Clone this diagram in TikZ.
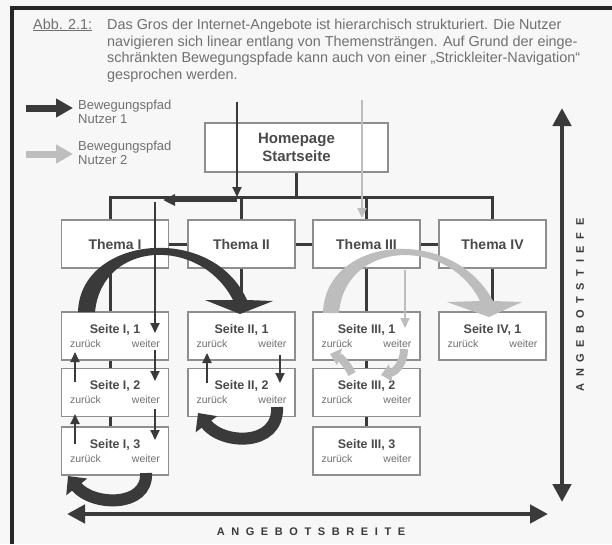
\documentclass[tikz,border=0pt]{standalone}
\usepackage{fontspec}
\setmainfont{Liberation Sans}
\newfontfamily\spacedfont[LetterSpace=60]{Liberation Sans}
\usetikzlibrary{arrows.meta}
\definecolor{darkc}{HTML}{3A3A3A}
\definecolor{lightc}{HTML}{BDBDBD}
\definecolor{boxc}{HTML}{8E8E8E}
\definecolor{txtc}{HTML}{4A4A4A}
\definecolor{captc}{HTML}{707070}
\definecolor{bgc}{HTML}{F7F7F7}
\newcommand\seitelabel[1]{{\fontsize{12.5}{14}\selectfont\bfseries Seite #1}\\[2pt]{\fontsize{10.5}{12}\selectfont\color{captc}zurück\hfill weiter}}
\begin{document}
\begin{tikzpicture}[x=1pt,y=-1pt,
  box/.style={draw=boxc, line width=1.6pt, fill=white, inner sep=0pt, text=txtc},
  themebox/.style={box, minimum width=107pt, minimum height=48pt, font=\fontsize{14}{16}\selectfont\bfseries},
  pagebox/.style={box, minimum width=107pt, minimum height=48pt, text width=90pt, align=center},
  conn/.style={draw=darkc, line width=3pt},
  thinD/.style={draw=darkc, line width=2pt, -{Triangle[width=9pt,length=10pt]}},
  thinL/.style={draw=lightc, line width=2pt, -{Triangle[width=9pt,length=10pt]}},
  uturn/.style={draw=darkc, line width=12pt, -{Triangle[width=26pt,length=14pt]}},
  swoosh/.style={draw=lightc, line width=8pt, -{Triangle[width=17pt,length=10pt]}},
  axis/.style={draw=darkc, line width=4.5pt, {Triangle[width=18pt,length=18pt]}-{Triangle[width=18pt,length=18pt]}},
  capt/.style={anchor=base west, font=\fontsize{14.4}{16}\selectfont, text=captc, inner sep=0pt},
  legtext/.style={anchor=west, align=left, font=\fontsize{13}{14}\selectfont, text=captc, inner sep=0pt},
  axlabel/.style={font=\spacedfont\bfseries\fontsize{11}{13}\selectfont, text=darkc, inner sep=0pt}
]
\useasboundingbox (0,0) rectangle (612,544);
\fill[bgc] (0,0) rectangle (612,544);
\draw[line width=3.5pt, draw=black!85] (12,544) -- (12,8) -- (612,8);

% caption
\node[capt] (abb) at (33,29) {\underline{Abb. 2.1:}};
\node[capt] (c1) at (107,29) {Das Gros der Internet-Angebote ist hierarchisch strukturiert. Die Nutzer};
\node[capt] (c2) at (107,46) {navigieren sich linear entlang von Themensträngen. Auf Grund der einge-};
\node[capt] (c3) at (107,62) {schränkten Bewegungspfade kann auch von einer „Strickleiter-Navigation“};
\node[capt] (c4) at (107,79) {gesprochen werden.};

% legend
\coordinate (l1a) at (26,108); \coordinate (l1b) at (73,108);
\coordinate (l2a) at (26,154); \coordinate (l2b) at (73,154);
\draw[draw=darkc, line width=7pt, -{Triangle[width=18pt,length=17pt]}] (l1a) -- (l1b);
\draw[draw=lightc, line width=7pt, -{Triangle[width=18pt,length=17pt]}] (l2a) -- (l2b);
\node[legtext] (lt1) at (78,112) {Bewegungspfad\\Nutzer 1};
\node[legtext] (lt2) at (78,152.5) {Bewegungspfad\\Nutzer 2};

% boxes
\node[box, minimum width=183pt, minimum height=49pt, align=center, font=\fontsize{15}{18}\selectfont\bfseries] (home) at (296.5,147.5) {Homepage\\Startseite};
\node[themebox] (t1) at (115,244) {Thema I};
\node[themebox] (t2) at (241.5,244) {Thema II};
\node[themebox] (t3) at (366.5,244) {Thema III};
\node[themebox] (t4) at (492.5,244) {Thema IV};
\node[pagebox] (s11) at (115,336) {\seitelabel{I, 1}};
\node[pagebox] (s12) at (115,392.5) {\seitelabel{I, 2}};
\node[pagebox] (s13) at (115,451) {\seitelabel{I, 3}};
\node[pagebox] (s21) at (241.5,336) {\seitelabel{II, 1}};
\node[pagebox] (s22) at (241.5,392.5) {\seitelabel{II, 2}};
\node[pagebox] (s31) at (366.5,336) {\seitelabel{III, 1}};
\node[pagebox] (s32) at (366.5,392.5) {\seitelabel{III, 2}};
\node[pagebox] (s33) at (366.5,451) {\seitelabel{III, 3}};
\node[pagebox] (s41) at (492.5,336) {\seitelabel{IV, 1}};

% tree connectors
\coordinate (bus) at (0,197);
\draw[conn] (home.south) -- (home.south |- bus);
\draw[conn] ([xshift=-5pt]t1.north) |- (bus -| t4.north) -- (t4.north);
\draw[conn] (t2.north) -- (t2.north |- bus);
\draw[conn] (t3.north) -- (t3.north |- bus);
\draw[conn] (t1.east) -- (t2.west);
\draw[conn] (t2.east) -- (t3.west);
\draw[conn] (t3.east) -- (t4.west);
\draw[conn] ([xshift=-5pt]t1.south) -- ([xshift=-5pt]s11.north);
\draw[conn] (t2.south) -- (s21.north);
\draw[conn] (t3.south) -- (s31.north);
\draw[conn] (t4.south) -- (s41.north);
\draw[conn] ([xshift=-5pt]s11.south) -- ([xshift=-5pt]s12.north);
\draw[conn] ([xshift=-5pt]s12.south) -- ([xshift=-5pt]s13.north);
\draw[conn] (s31.south) -- (s32.north);
\draw[conn] (s32.south) -- (s33.north);

% user 2 (light)
\coordinate (g0) at (362,100); \coordinate (g1) at (362,218);
\draw[thinL] (g0) -- (g1);
\coordinate (g2) at (405,270); \coordinate (g3) at (405,328);
\draw[thinL] (g2) -- (g3);
\fill[lightc] (323,313) .. controls (325,236) and (452,224) .. (493,301) -- (522,302) -- (489,317) -- (447,302) -- (480,301) .. controls (448,236) and (345,240) .. (339,313) -- cycle;
\coordinate (g4) at (404,349); \coordinate (g5) at (381,375);
\draw[swoosh] (g4) .. controls (404,364) and (395,372) .. (g5);
\coordinate (g6) at (352,374); \coordinate (g7) at (330,354);
\draw[swoosh] (g6) .. controls (347,364) and (340,357) .. (g7);

% user 1 (dark)
\coordinate (d0) at (237,102);
\draw[thinD] (d0) -- (d0 |- bus);
\coordinate (ba) at (237,200); \coordinate (bb) at (163,200);
\draw[draw=darkc, line width=3.5pt, -{Triangle[width=11pt,length=12pt]}] (ba) -- (bb);
\coordinate (d1) at (155,202); \coordinate (d2) at (155,333);
\draw[thinD] (d1) -- (d2);
\draw[thinD] (155,350) -- (155,381);
\draw[thinD] (155,409) -- (155,440);
\draw[thinD] (75,382) -- (75,352);
\draw[thinD] (75,444) -- (75,414);
\draw[thinD] (207,383) -- (207,353);
\draw[thinD] (280,355) -- (280,383);
\fill[darkc] (78,312) .. controls (80,236) and (212,222) .. (247,300) -- (273,301) -- (240,314) -- (205,300) -- (233,300) .. controls (200,236) and (102,240) .. (95,312) -- cycle;
\coordinate (u1) at (277,407); \coordinate (u2) at (198,413);
\draw[uturn] (u1) .. controls (279,447) and (222,445) .. (u2);
\coordinate (u3) at (146,473); \coordinate (u4) at (68,476);
\draw[uturn] (u3) .. controls (148,508) and (92,506) .. (u4);

% axes
\coordinate (vt) at (562,108); \coordinate (vb) at (562,502);
\draw[axis] (vt) -- (vb);
\coordinate (hl) at (67,514); \coordinate (hr) at (548,514);
\draw[axis] (hl) -- (hr);
\node[axlabel] (breite) at (311,532) {ANGEBOTSBREITE};
\node[axlabel, rotate=90] (tiefe) at (580,305) {ANGEBOTSTIEFE};
\end{tikzpicture}
\end{document}
